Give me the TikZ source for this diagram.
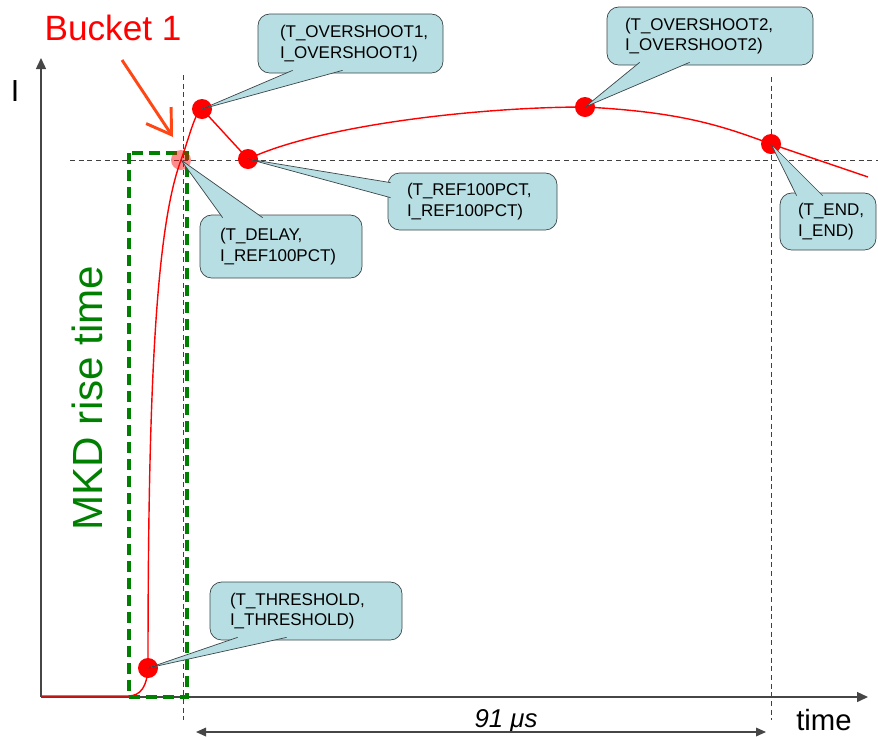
\documentclass[tikz,border=0pt]{standalone}
\usepackage{fontspec}
\setmainfont{Liberation Sans}
\usetikzlibrary{arrows.meta,calc}
\definecolor{callblue}{RGB}{183,222,227}
\definecolor{callline}{RGB}{60,70,72}
\definecolor{mkdgreen}{RGB}{0,128,0}
\definecolor{bktred}{RGB}{255,70,20}
\definecolor{axgray}{RGB}{70,70,70}
\newcommand{\cf}{\fontsize{14.5}{17.5}\selectfont}
\newcommand{\callptr}[3]{%
  \fill[callblue] #1 -- #2 -- #3 -- cycle;
  \draw[callline,line width=0.6pt,line join=round] #1 -- #2 -- #3;}
\hyphenpenalty=10000
\hfuzz=100pt

\begin{document}
\begin{tikzpicture}[x=0.3mm,y=-0.3mm,
  callbox/.style={draw=callline,fill=callblue,line width=0.6pt,rounded corners=3.5mm,
    inner sep=0pt,align=left,font=\cf},
  dot/.style={circle,fill=red,inner sep=0pt,minimum size=6mm},
  guide/.style={black!75,line width=0.8pt,dash pattern=on 1.5mm off 1.1mm},
  axis/.style={axgray,line width=1.2pt,-{Triangle[length=3.3mm,width=3mm]}}]
  \useasboundingbox (0,0) rectangle (878,736);
  % guide lines
  \draw[guide] ( 70,160) -- (878,160);
  \draw[guide] (183, 75) -- (183,720);
  \draw[guide] (771, 77) -- (771,720);
  % axes
  \draw[axis] ( 41,697) -- ( 41, 58);
  \draw[axis] ( 41,697) -- (868,697);
  % points of the pulse
  \coordinate (pthr) at (148,668);
  \coordinate (pdly) at (181,160);
  \coordinate (pov1) at (202,109);
  \coordinate (pref) at (248,159);
  \coordinate (pov2) at (585,107);
  \coordinate (pend) at (771,144);
  \draw[red,line width=1.2pt] (41,696) -- (128,696)
    .. controls (141,696) and (147,686) .. (pthr)
    .. controls (148,400) and (155,230) .. (pdly)
    .. controls (190,135) and (195,112) .. (pov1) -- (pref)
    .. controls (320,125) and (480,107) .. (pov2)
    .. controls (680,112) and (720,125) .. (pend) -- (868,177);
  % rise time box
  \draw[mkdgreen,line width=1.4mm,dash pattern=on 3.4mm off 1.7mm] (129,153) rectangle (187,697);
  \node[rotate=90,anchor=base,mkdgreen,font=\fontsize{36}{40}\selectfont] (rise) at (102,398) {MKD rise time};
  % callouts
  \node[callbox,minimum width=55.5mm,minimum height=17.7mm,text width=42.3mm] (ov1box) at (350.5, 43.5) {(T\_OVERSHOOT1,\\I\_OVERSHOOT1)};
  \node[callbox,minimum width=61.8mm,minimum height=17.4mm,text width=51mm]   (ov2box) at (710  , 36  ) {(T\_OVERSHOOT2,\\I\_OVERSHOOT2)};
  \node[callbox,minimum width=28.8mm,minimum height=17.1mm,text width=18mm]   (endbox) at (828  ,221.5) {(T\_END,\\I\_END)};
  \node[callbox,minimum width=48.6mm,minimum height=18.9mm,text width=36.6mm] (dlybox) at (281  ,246.5) {(T\_DELAY,\\I\_REF100PCT)};
  \node[callbox,minimum width=50.7mm,minimum height=17.1mm,text width=39.3mm] (refbox) at (472.5,201.5) {(T\_REF100PCT,\\I\_REF100PCT)};
  \node[callbox,minimum width=57.6mm,minimum height=17.4mm,text width=45.6mm] (thrbox) at (306  ,611  ) {(T\_THRESHOLD,\\I\_THRESHOLD)};
  % dots
  \node[dot] (dthr) at (pthr) {};
  \node[dot,fill opacity=0.45] (ddly) at (pdly) {};
  \node[dot] (dov1) at (pov1) {};
  \node[dot] (dref) at (pref) {};
  \node[dot] (dov2) at (pov2) {};
  \node[dot] (dend) at (pend) {};
  % pointers
  \callptr{($(ov1box.south west)+(35,-3)$)}{(dov1.center)}{($(ov1box.south west)+(85,-3)$)}
  \callptr{($(ov2box.south west)+(33,-3)$)}{(dov2.center)}{($(ov2box.south west)+(83,-3)$)}
  \callptr{($(endbox.north west)+(17,3)$)}{(dend.center)}{($(endbox.north west)+(43,3)$)}
  \callptr{($(dlybox.north west)+(23,3)$)}{(ddly.center)}{($(dlybox.north west)+(63,3)$)}
  \callptr{($(refbox.north west)+(3,10)$)}{(dref.center)}{($(refbox.north west)+(3,25)$)}
  \callptr{($(thrbox.south west)+(28,-3)$)}{(dthr.center)}{($(thrbox.south west)+(77,-3)$)}
  % labels
  \node[anchor=base,red,font=\fontsize{30}{34}\selectfont] (bucket) at (113, 40) {Bucket 1};
  \node[anchor=base,font=\fontsize{26}{30}\selectfont] (ilab) at ( 15,101) {I};
  \node[anchor=base,font=\fontsize{25}{30}\selectfont] (timelab) at (824,730) {time};
  \node[anchor=base,font=\fontsize{22}{26}\selectfont\itshape] (spanlab) at (506,727) {91 μs};
  \coordinate (bkfrom) at (122, 60);
  \coordinate (bkto)   at (173,137);
  \draw[bktred,line width=2.5pt,-{Straight Barb[length=7mm,width=9mm]}] (bkfrom) -- (bkto);
  \coordinate (span0) at (196,732);
  \coordinate (span1) at (766,732);
  \draw[axgray,line width=1.1pt,{Triangle[length=3mm,width=2.6mm]}-{Triangle[length=3mm,width=2.6mm]}] (span0) -- (span1);
\end{tikzpicture}
\end{document}
